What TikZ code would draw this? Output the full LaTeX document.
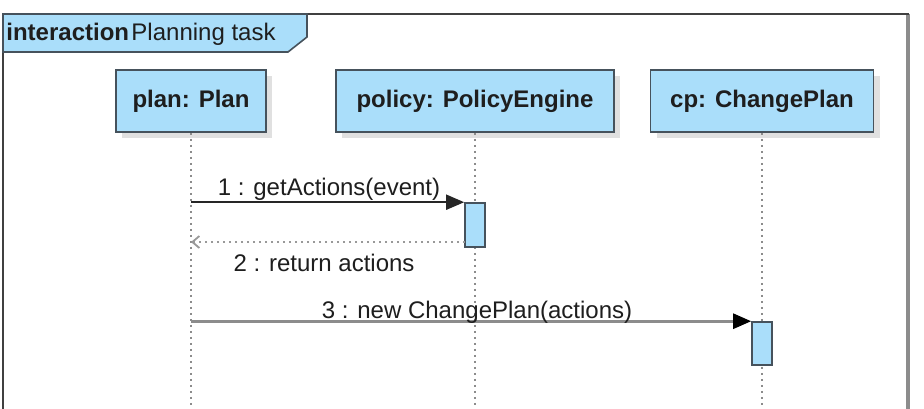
\documentclass[tikz,border=0pt]{standalone}
\usepackage{fontspec}
\setmainfont{Liberation Sans}
\usetikzlibrary{arrows.meta,shadows}
\definecolor{umlblue}{RGB}{170,222,250}
\definecolor{umlline}{RGB}{70,82,92}
\definecolor{umltext}{RGB}{30,30,30}
\begin{document}
\begin{tikzpicture}[x=0.5pt,y=-0.5pt,
  every node/.style={font=\fontsize{12}{14}\selectfont, text=umltext},
  head/.style={draw=umlline, line width=0.8pt, fill=umlblue, minimum height=31pt, inner sep=0pt,
    font=\fontsize{12}{14}\selectfont\bfseries,
    drop shadow={shadow xshift=3pt, shadow yshift=-3pt, fill=black!12, opacity=1}},
  act/.style={draw=umlline, line width=0.8pt, fill=umlblue, minimum width=10pt, inner sep=0pt},
  lifeline/.style={draw=black!45, line width=1.1pt, dash pattern=on 1pt off 2pt},
  msg/.style={draw=black!85, line width=0.9pt, -{Triangle[length=9pt,width=7.5pt]}},
  msggray/.style={draw=black!45, line width=1.3pt, -{Triangle[length=9pt,width=7.5pt,fill=black,color=black]}},
  ret/.style={draw=black!40, line width=0.9pt, dash pattern=on 1pt off 2pt, -{Straight Barb[length=3.5pt,width=6pt]}},
  lbl/.style={inner sep=0pt}]
\useasboundingbox (0,0) rectangle (924,408);
\fill[white] (0,0) rectangle (924,408);
% frame
\draw[black!45, line width=1.6pt] (908,14) -- (908,420);
\draw[black!75, line width=1.4pt] (3,420) -- (3,14) -- (909,14);
% tab
\draw[umlline, line width=0.8pt, fill=umlblue] (3,14) -- (307,14) -- (307,37) -- (288,52) -- (3,52) -- cycle;
\node[lbl, anchor=west] (title) at (6,34) {\textbf{interaction}\hspace{1.2pt}Planning task};
% lifeline heads
\node[head, minimum width=75pt] (plan) at (191,101) {plan: Plan};
\node[head, minimum width=139pt] (policy) at (475,101) {policy: PolicyEngine};
\node[head, minimum width=111.5pt] (cp) at (762,101) {cp: ChangePlan};
% lifeline ends
\coordinate (planend) at (191,408);
\coordinate (policyend) at (475,408);
\coordinate (cpend) at (762,408);
\draw[lifeline] (plan.south) -- (planend);
\draw[lifeline] (policy.south) -- (policyend);
\draw[lifeline] (cp.south) -- (cpend);
% activations
\node[act, minimum height=22pt] (act1) at (475,225) {};
\node[act, minimum height=21.5pt] (act2) at (762,343.5) {};
% messages
\draw[msg] (plan |- act1.north west) -- (act1.north west);
\node[lbl] (m1) at (329,189) {1 : getActions(event)};
\coordinate (retstart) at (465,242);
\draw[ret] (retstart) -- (plan |- retstart);
\node[lbl] (m2) at (324,263) {2 : return actions};
\draw[msggray] (plan |- act2.north west) -- (act2.north west);
\node[lbl] (m3) at (477,312) {3 : new ChangePlan(actions)};
\end{tikzpicture}
\end{document}
